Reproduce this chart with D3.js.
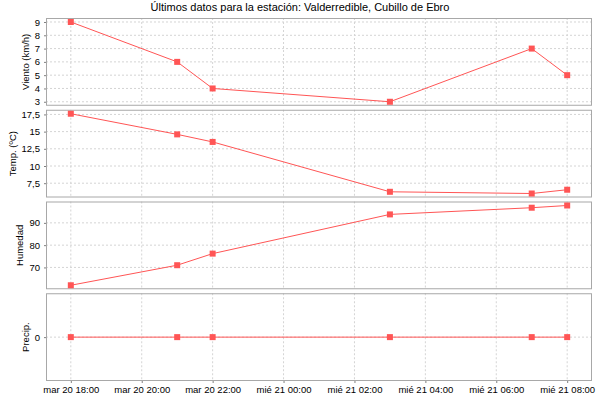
<!DOCTYPE html>
<html>
<head>
<meta charset="utf-8">
<script src="https://cdn.jsdelivr.net/npm/d3@7"></script>
<style>
  body { margin: 0; background: #fff; }
  svg { display: block; font-family: "Liberation Sans", Arial, sans-serif; }
</style>
</head>
<body>
<script>
// observation times (Valderredible, Cubillo de Ebro)
const times = ["2018-03-20 18:00", "2018-03-20 21:00", "2018-03-20 22:00",
               "2018-03-21 03:00", "2018-03-21 07:00", "2018-03-21 08:00"];
const viento = [9, 6, 4, 3, 7, 5];
const temp = [17.6, 14.6, 13.5, 6.25, 6.0, 6.55];
const humedad = [62, 71, 76.2, 93.8, 96.8, 97.8];
const precip = [0, 0, 0, 0, 0, 0];

const xTicks = ["2018-03-20 18:00", "2018-03-20 20:00", "2018-03-20 22:00", "2018-03-21 00:00",
                "2018-03-21 02:00", "2018-03-21 04:00", "2018-03-21 06:00", "2018-03-21 08:00"];
const vientoTicks = [3, 4, 5, 6, 7, 8, 9];
const tempTicks = [7.5, 10, 12.5, 15, 17.5];
const humedadTicks = [70, 80, 90];
const precipTicks = [0];

const title = "Últimos datos para la estación: Valderredible, Cubillo de Ebro";

let width = 600;
let height = 400;
let margin = { top: 18, bottom: 19, left: 46, right: 8 };
let gap = 4;

const parse = d3.timeParse("%Y-%m-%d %H:%M");
const dates = times.map(parse);
const days = ["dom", "lun", "mar", "mié", "jue", "vie", "sáb"];
const fmtDate = d => `${days[d.getDay()]} ${d3.timeFormat("%d %H:%M")(d)}`;
const fmtNum = d => String(d).replace(".", ",");

const panels = [
    { label: "Viento (km/h)", values: viento, ticks: vientoTicks },
    { label: "Temp. (ºC)", values: temp, ticks: tempTicks },
    { label: "Humedad", values: humedad, ticks: humedadTicks },
    { label: "Precip.", values: precip, ticks: precipTicks }
];

const svg = d3.select("body").append("svg")
    .attr("width", width)
    .attr("height", height);

// time scale padded by 5% each side
const [t0, t1] = d3.extent(dates);
const pad = (t1 - t0) * 0.05;
const xScale = d3.scaleTime()
    .domain([new Date(+t0 - pad), new Date(+t1 + pad)])
    .range([margin.left, width - margin.right]);

const panelH = (height - margin.top - margin.bottom - gap * (panels.length - 1)) / panels.length;
const lineColor = "#ff5555";

svg.append("text")
    .attr("x", width / 2)
    .attr("y", 11)
    .attr("text-anchor", "middle")
    .style("font-size", "11px")
    .attr("fill", "#000")
    .text(title);

panels.forEach((p, i) => {
    const top = margin.top + i * (panelH + gap);
    const bottom = top + panelH;

    let [lo, hi] = d3.extent(p.values);
    if (lo === hi) { lo -= 1; hi += 1; }
    const m = (hi - lo) * 0.05;
    const yScale = d3.scaleLinear()
        .domain([lo - m, hi + m])
        .range([bottom, top]);

    const g = svg.append("g");

    // grid
    g.selectAll(".vgrid")
        .data(xTicks.map(parse))
        .enter().append("line")
        .attr("x1", d => xScale(d)).attr("x2", d => xScale(d))
        .attr("y1", top).attr("y2", bottom)
        .attr("stroke", "#d4d4d4")
        .attr("stroke-dasharray", "2,2");

    g.selectAll(".hgrid")
        .data(p.ticks)
        .enter().append("line")
        .attr("x1", margin.left).attr("x2", width - margin.right)
        .attr("y1", d => yScale(d)).attr("y2", d => yScale(d))
        .attr("stroke", "#d4d4d4")
        .attr("stroke-dasharray", "2,2");

    // y axis
    const yAxis = g.append("g")
        .attr("transform", `translate(${margin.left},0)`)
        .call(d3.axisLeft(yScale).tickValues(p.ticks).tickFormat(fmtNum).tickSize(2).tickPadding(4));
    yAxis.select(".domain").remove();
    yAxis.selectAll("line").attr("stroke", "#808080");
    yAxis.selectAll("text").style("font-size", "9.5px").attr("fill", "#000")
        .style("font-family", "Liberation Sans, Arial, sans-serif");

    let maxW = 0;
    yAxis.selectAll("text").each(function() { maxW = Math.max(maxW, this.getBBox().width); });

    g.append("text")
        .attr("transform", `translate(${margin.left - 6 - maxW - 6},${(top + bottom) / 2}) rotate(-90)`)
        .attr("text-anchor", "middle")
        .style("font-size", "9.5px")
        .attr("fill", "#000")
        .text(p.label);

    // border
    g.append("rect")
        .attr("x", margin.left + 0.5)
        .attr("y", top + 0.5)
        .attr("width", width - margin.right - margin.left - 1)
        .attr("height", panelH - 1)
        .attr("fill", "none")
        .attr("stroke", "#a8a8a8");

    // line + markers
    const line = d3.line()
        .x((d, k) => xScale(dates[k]))
        .y(d => yScale(d));

    g.append("path")
        .datum(p.values)
        .attr("d", line)
        .attr("fill", "none")
        .attr("stroke", lineColor)
        .attr("stroke-width", 1);

    g.selectAll(".pt")
        .data(p.values)
        .enter().append("rect")
        .attr("x", (d, k) => xScale(dates[k]) - 3)
        .attr("y", d => yScale(d) - 3)
        .attr("width", 6)
        .attr("height", 6)
        .attr("fill", lineColor);

    // bottom time axis
    if (i === panels.length - 1) {
        const xAxis = g.append("g")
            .attr("transform", `translate(0,${bottom})`)
            .call(d3.axisBottom(xScale).tickValues(xTicks.map(parse)).tickFormat(fmtDate).tickSize(2).tickPadding(3));
        xAxis.select(".domain").remove();
        xAxis.selectAll("line").attr("stroke", "#808080");
        xAxis.selectAll("text").style("font-size", "9.5px").attr("fill", "#000")
            .style("font-family", "Liberation Sans, Arial, sans-serif");
    }
});
</script>
</body>
</html>
